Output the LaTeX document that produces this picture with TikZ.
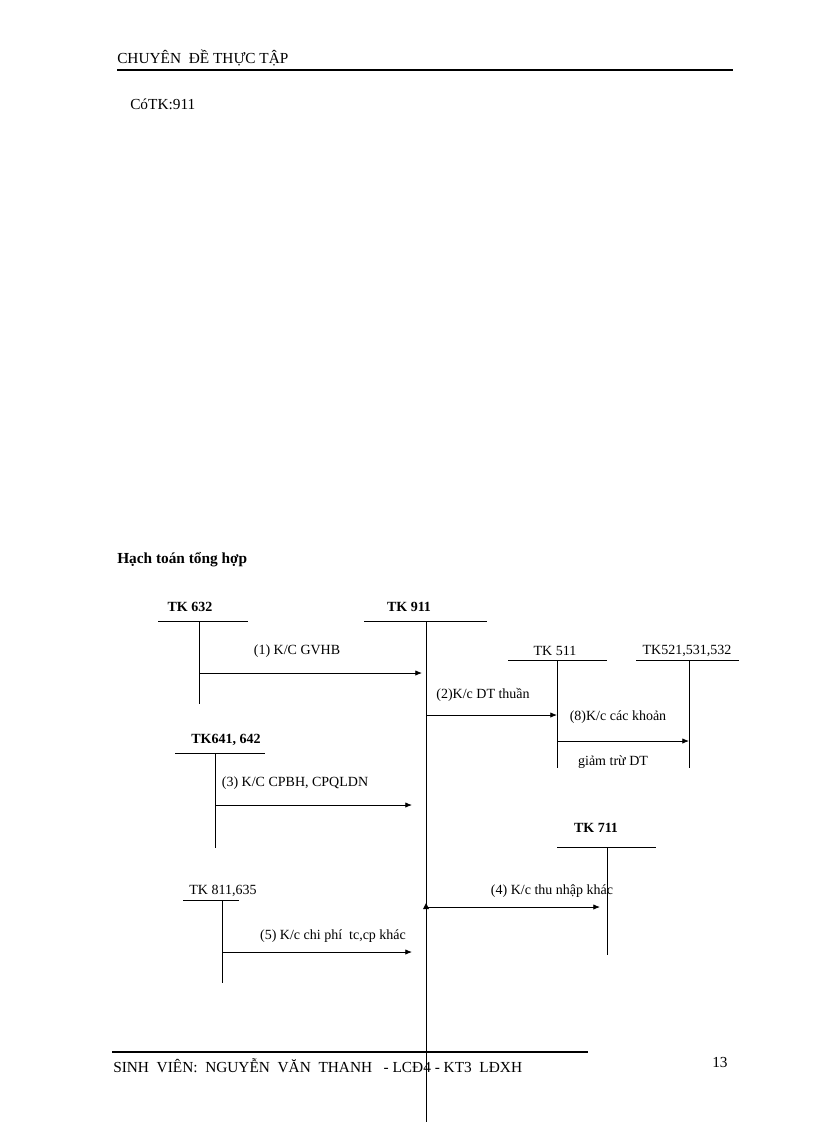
\documentclass[tikz,border=0pt]{standalone}
\usepackage{fontspec}
\setmainfont{Liberation Serif}
\usetikzlibrary{arrows.meta}
\begin{document}
\begin{tikzpicture}[x=0.75pt,y=-0.75pt,
  lbl/.style={font=\fontsize{10.5}{12}\selectfont, inner sep=0pt},
  blbl/.style={font=\fontsize{10.5}{12}\selectfont\bfseries, inner sep=0pt},
  big/.style={font=\fontsize{11.5}{13}\selectfont, inner sep=0pt},
  acc/.style={line width=0.6pt},
  arr/.style={line width=0.6pt,-{Latex[length=5pt,width=4pt]}}]
\useasboundingbox (0,0) rectangle (816,1123);
% header/footer
\node[big,anchor=west] (hd) at (117,58) {CHUYÊN\ \ ĐỀ\ THỰC\ TẬP};
\draw[line width=1.5pt] (117,70) -- (733,70);
\node[big,anchor=west] (co) at (130,104) {CóTK:911};
\node[big,anchor=west,font=\fontsize{11.5}{13}\selectfont\bfseries] (ht) at (117,560) {Hạch toán tổng hợp};
\draw[line width=1.5pt] (112,1052) -- (588,1052);
\node[big,anchor=west] (ft) at (113,1066) {SINH\ \ VIÊN:\ \ NGUYỄN\ \ VĂN\ \ THANH\ \ \ - LCĐ4 - KT3\ \ LĐXH};
\node[big,anchor=west] (pg) at (712,1062) {13};
% accounts
\node[blbl] (t632) at (190,607) {TK 632};
\draw[acc] (158,621) -- (248,621); \coordinate (a632) at (199,621); \coordinate (b632) at (199,704); \draw[acc] (a632) -- (b632);
\node[blbl] (t911) at (409,607) {TK 911};
\draw[acc] (364,621) -- (487,621); \coordinate (a911) at (426,621); \coordinate (b911) at (426,1122); \draw[acc] (a911) -- (b911);
\node[lbl] (t511) at (555,651) {TK 511};
\draw[acc] (508,660) -- (607,660); \coordinate (a511) at (557,660); \coordinate (b511) at (557,768); \draw[acc] (a511) -- (b511);
\node[lbl] (t521) at (687,651) {TK521,531,532};
\draw[acc] (636,660) -- (739,660); \coordinate (a521) at (689,660); \coordinate (b521) at (689,768); \draw[acc] (a521) -- (b521);
\node[blbl] (t641) at (226,740) {TK641, 642};
\draw[acc] (175,753) -- (265,753); \coordinate (a641) at (215,753); \coordinate (b641) at (215,848); \draw[acc] (a641) -- (b641);
\node[blbl] (t711) at (596,828) {TK 711};
\draw[acc] (557,847) -- (656,847); \coordinate (a711) at (607,847); \coordinate (b711) at (607,955); \draw[acc] (a711) -- (b711);
\node[lbl] (t811) at (223,891) {TK 811,635};
\draw[acc] (183,900) -- (239,900); \coordinate (a811) at (222,900); \coordinate (b811) at (222,983); \draw[acc] (a811) -- (b811);
% arrows
\coordinate (s1) at (199,673); \coordinate (e1) at (422,673);
\draw[arr] (s1) -- (e1);
\node[lbl] (l1) at (297,651) {(1) K/C GVHB};
\coordinate (s2) at (426,715); \coordinate (e2) at (557,715);
\draw[arr] (s2) -- (e2);
\node[lbl] (l2) at (483,695) {(2)K/c DT thuần};
\coordinate (s8) at (557,741); \coordinate (e8) at (689,741);
\draw[arr] (s8) -- (e8);
\node[lbl] (l8) at (618,717) {(8)K/c các khoản};
\node[lbl] (l8b) at (613,762) {giảm trừ DT};
\coordinate (s3) at (215,805); \coordinate (e3) at (412,805);
\draw[arr] (s3) -- (e3);
\node[lbl] (l3) at (295,783) {(3) K/C CPBH, CPQLDN};
\coordinate (s4) at (426,907); \coordinate (e4) at (600,907);
\draw[arr] (s4) -- (e4);
\fill (423,909) -- (429,909) -- (426,903) -- cycle;
\node[lbl] (l4) at (552,891) {(4) K/c thu nhập khác};
\coordinate (s5) at (222,952); \coordinate (e5) at (412,952);
\draw[arr] (s5) -- (e5);
\node[lbl] (l5) at (333,936) {(5) K/c chi phí\ \ tc,cp khác};
\end{tikzpicture}
\end{document}
